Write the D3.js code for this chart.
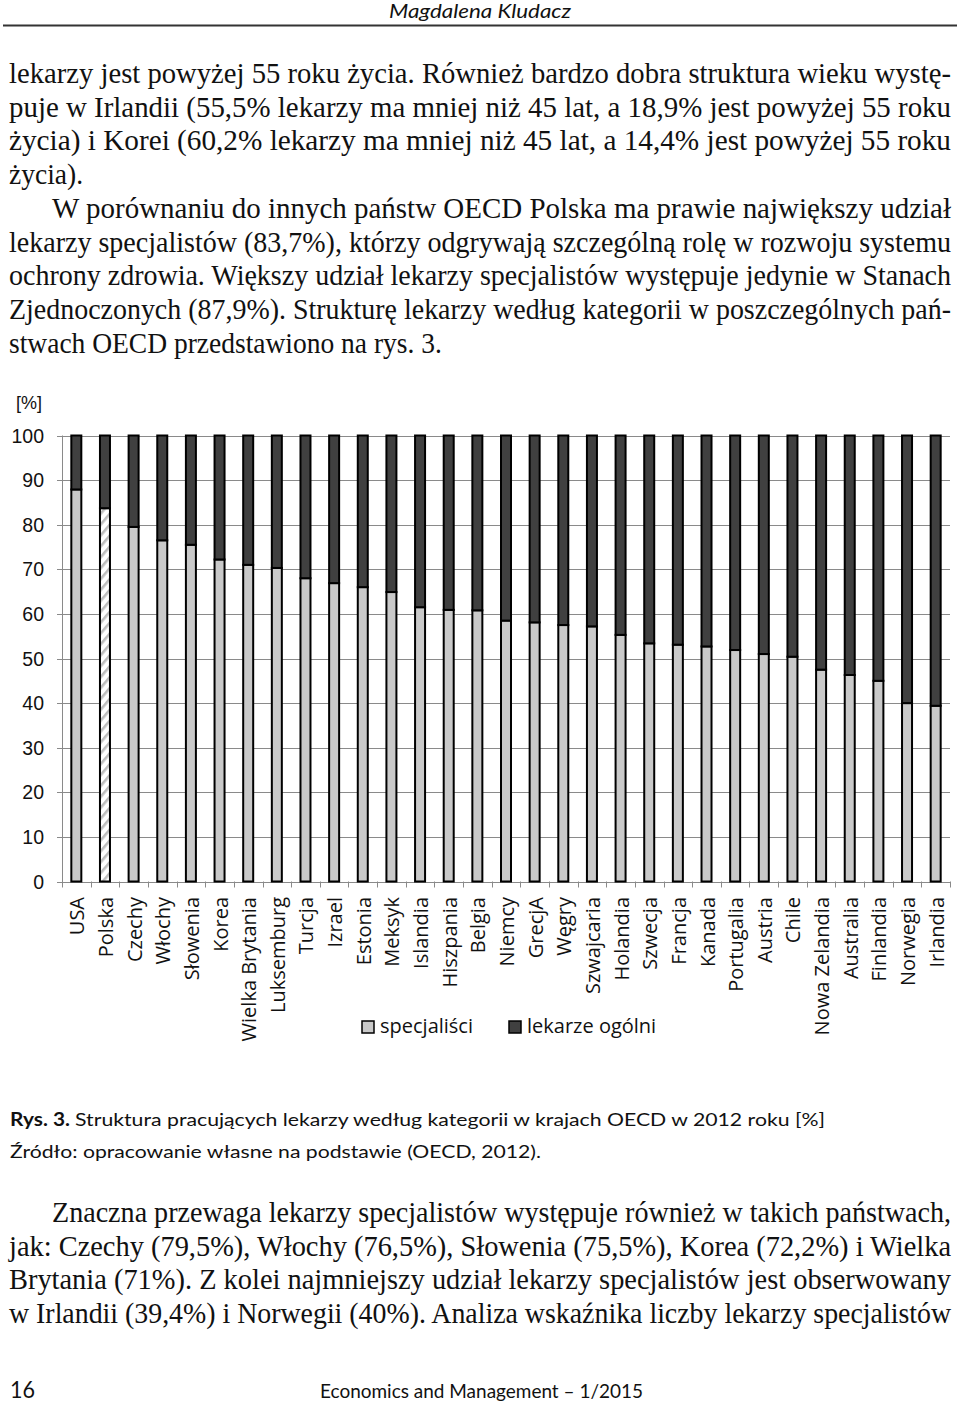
<!DOCTYPE html>
<html><head><meta charset="utf-8">
<script src="https://cdn.jsdelivr.net/npm/d3@7"></script>
<style>
html,body{margin:0;padding:0;background:#fff;}
svg{display:block;}
</style>
</head><body>
<svg id="page" width="960" height="1403"></svg>
<script>
// ---------- DATA ----------
const countries = ["USA","Polska","Czechy","Włochy","Słowenia","Korea","Wielka Brytania","Luksemburg","Turcja","Izrael","Estonia","Meksyk","Islandia","Hiszpania","Belgia","Niemcy","GrecjA","Węgry","Szwajcaria","Holandia","Szwecja","Francja","Kanada","Portugalia","Austria","Chile","Nowa Zelandia","Australia","Finlandia","Norwegia","Irlandia"];
const specjalisci = [87.9,83.7,79.5,76.5,75.5,72.2,71.0,70.3,68.0,66.9,66.0,64.9,61.5,60.9,60.8,58.5,58.1,57.5,57.2,55.3,53.4,53.1,52.7,51.9,51.0,50.4,47.5,46.3,45.0,40.0,39.4];
const lekarzeOgolni = [12.1,16.3,20.5,23.5,24.5,27.8,29.0,29.7,32.0,33.1,34.0,35.1,38.5,39.1,39.2,41.5,41.9,42.5,42.8,44.7,46.6,46.9,47.3,48.1,49.0,49.6,52.5,53.7,55.0,60.0,60.6];
const seriesNames = ["specjaliści","lekarze ogólni"];
const yTicks = [0,10,20,30,40,50,60,70,80,90,100];
const highlighted = ["Polska"];

const headerText = "Magdalena Kludacz";
const para1 = [
 "lekarzy jest powyżej 55 roku życia. Również bardzo dobra struktura wieku wystę-",
 "puje w Irlandii (55,5% lekarzy ma mniej niż 45 lat, a 18,9% jest powyżej 55 roku",
 "życia) i Korei (60,2% lekarzy ma mniej niż 45 lat, a 14,4% jest powyżej 55 roku",
 "życia)."
];
const para2 = [
 "W porównaniu do innych państw OECD Polska ma prawie największy udział",
 "lekarzy specjalistów (83,7%), którzy odgrywają szczególną rolę w rozwoju systemu",
 "ochrony zdrowia. Większy udział lekarzy specjalistów występuje jedynie w Stanach",
 "Zjednoczonych (87,9%). Strukturę lekarzy według kategorii w poszczególnych pań-",
 "stwach OECD przedstawiono na rys. 3."
];
const para3 = [
 "Znaczna przewaga lekarzy specjalistów występuje również w takich państwach,",
 "jak: Czechy (79,5%), Włochy (76,5%), Słowenia (75,5%), Korea (72,2%) i Wielka",
 "Brytania (71%). Z kolei najmniejszy udział lekarzy specjalistów jest obserwowany",
 "w Irlandii (39,4%) i Norwegii (40%). Analiza wskaźnika liczby lekarzy specjalistów"
];
const captionBold = "Rys. 3.";
const captionRest = "Struktura pracujących lekarzy według kategorii w krajach OECD w 2012 roku [%]";
const sourceText = "Źródło: opracowanie własne na podstawie (OECD, 2012).";
const pageNo = "16";
const journal = "Economics and Management – 1/2015";

// ---------- PAGE ----------
const svg = d3.select("#page");
const serif = "'Liberation Serif','Times New Roman',serif";
const sansC = "Lato,'Open Sans',sans-serif";

svg.append("text").attr("x",480).attr("y",18).attr("text-anchor","middle")
  .attr("font-family",sansC).attr("font-style","italic").attr("font-size",19)
  .attr("textLength",182).attr("lengthAdjust","spacingAndGlyphs")
  .attr("fill","#111").text(headerText);
svg.append("line").attr("x1",3).attr("x2",957).attr("y1",25.5).attr("y2",25.5)
  .attr("stroke","#333").attr("stroke-width",2);

function paragraph(lines, startY, step, firstIndent, lastJustified){
  lines.forEach((t,i)=>{
    const x0 = (i===0 && firstIndent) ? 52 : 9;
    const justify = lastJustified || i < lines.length-1;
    const g = svg.append("g").attr("transform",`translate(${x0},${startY+i*step}) scale(1,1.08)`);
    const tx = g.append("text").attr("x",0).attr("y",0)
      .attr("font-family",serif).attr("font-size",27.5).attr("fill","#111").text(t);
    if (justify) tx.attr("textLength",951-x0).attr("lengthAdjust","spacingAndGlyphs");
  });
}
paragraph(para1, 83, 33.7, false, false);
paragraph(para2, 83+4*33.7, 33.7, true, false);
paragraph(para3, 1222, 33.7, true, true);

// ---------- CHART ----------
const m = {left:62, right:950, top:435.5, bottom:881.5};
const x = d3.scaleBand().domain(countries).range([m.left,m.right]).paddingInner(0).paddingOuter(0);
const y = d3.scaleLinear().domain([0,100]).range([m.bottom,m.top]);

const chart = svg.append("g");

// hatch pattern for Polska
const defs = svg.append("defs");
const pat = defs.append("pattern").attr("id","hatch").attr("patternUnits","userSpaceOnUse")
  .attr("width",7).attr("height",7).attr("patternTransform","rotate(40)");
pat.append("rect").attr("width",7).attr("height",7).attr("fill","#ffffff");
pat.append("rect").attr("x",0).attr("y",0).attr("width",2.6).attr("height",7).attr("fill","#bdbdbd");

// gridlines
chart.append("g").selectAll("line").data(yTicks).join("line")
  .attr("x1",57).attr("x2",m.right)
  .attr("y1",d=>Math.round(y(d))+0.5).attr("y2",d=>Math.round(y(d))+0.5)
  .attr("stroke","#8a8a8a").attr("stroke-width",1);

// y axis line
chart.append("line").attr("x1",62.5).attr("x2",62.5).attr("y1",y(100)).attr("y2",y(0)+1)
  .attr("stroke","#8a8a8a").attr("stroke-width",1);

// y labels
chart.append("g").selectAll("text").data(yTicks).join("text")
  .attr("x",44).attr("y",d=>y(d)).attr("dy","0.36em").attr("text-anchor","end")
  .attr("font-family","'Liberation Sans',Arial,sans-serif").attr("font-size",19.5).attr("fill","#111")
  .text(d=>d);
chart.append("text").attr("x",16).attr("y",403).attr("dy","0.36em")
  .attr("font-family","'Liberation Sans',Arial,sans-serif").attr("font-size",18).attr("fill","#111").text("[%]");

// bottom ticks at band boundaries
const bounds = countries.map(c=>x(c)).concat([m.right]);
chart.append("g").selectAll("line").data(bounds).join("line")
  .attr("x1",d=>Math.round(d)+0.5).attr("x2",d=>Math.round(d)+0.5)
  .attr("y1",y(0)).attr("y2",y(0)+6).attr("stroke","#8a8a8a").attr("stroke-width",1);

// stacked bars
const rows = countries.map((c,i)=>({country:c, "specjaliści":specjalisci[i], "lekarze ogólni":lekarzeOgolni[i]}));
const stack = d3.stack().keys(seriesNames)(rows);
const fills = {"specjaliści":"#c9c9c9","lekarze ogólni":"#404040"};
const bw = 10;
stack.forEach(s=>{
  chart.append("g").selectAll("rect").data(s).join("rect")
    .attr("x",d=>x(d.data.country)+x.bandwidth()/2-bw/2)
    .attr("width",bw)
    .attr("y",d=>y(d[1]))
    .attr("height",d=>y(d[0])-y(d[1]))
    .attr("fill",d=> (s.key==="specjaliści" && highlighted.includes(d.data.country)) ? "url(#hatch)" : fills[s.key])
    .attr("stroke","#000").attr("stroke-width",2);
});

// x labels
chart.append("g").selectAll("text").data(countries).join("text")
  .attr("transform",d=>`translate(${x(d)+x.bandwidth()/2+8},897) rotate(-90)`)
  .attr("text-anchor","end")
  .attr("font-family","'Open Sans',sans-serif").attr("font-size",20).attr("fill","#111")
  .text(d=>d);

// legend
const legX = [361,508];
seriesNames.forEach((n,i)=>{
  chart.append("rect").attr("x",legX[i]+1).attr("y",1021).attr("width",12).attr("height",12)
    .attr("fill",fills[n]).attr("stroke","#000").attr("stroke-width",1.5);
  chart.append("text").attr("x",legX[i]+19).attr("y",1033)
    .attr("font-family","'Open Sans',sans-serif").attr("font-size",20).attr("fill","#111").text(n);
});

// ---------- CAPTION / FOOTER ----------
svg.append("text").attr("x",10).attr("y",1126).attr("font-family",sansC).attr("font-weight","bold")
  .attr("font-size",18).attr("textLength",60).attr("lengthAdjust","spacingAndGlyphs").attr("fill","#111").text(captionBold);
svg.append("text").attr("x",75).attr("y",1126).attr("font-family",sansC)
  .attr("font-size",18).attr("textLength",750).attr("lengthAdjust","spacingAndGlyphs").attr("fill","#111").text(captionRest);
svg.append("text").attr("x",10).attr("y",1158).attr("font-family",sansC)
  .attr("font-size",18).attr("textLength",531).attr("lengthAdjust","spacingAndGlyphs").attr("fill","#111").text(sourceText);

svg.append("text").attr("x",10).attr("y",1398).attr("font-family",sansC)
  .attr("font-size",23).attr("textLength",25).attr("lengthAdjust","spacingAndGlyphs").attr("fill","#111").text(pageNo);
svg.append("text").attr("x",320).attr("y",1398).attr("font-family",sansC)
  .attr("font-size",20).attr("textLength",323).attr("lengthAdjust","spacingAndGlyphs").attr("fill","#111").text(journal);
</script>
</body></html>
